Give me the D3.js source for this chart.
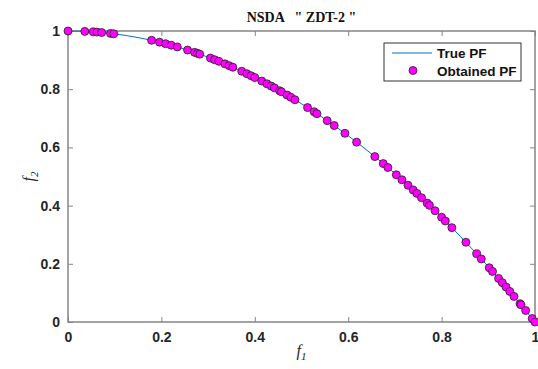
<!DOCTYPE html>
<html>
<head>
<meta charset="utf-8">
<script src="https://cdn.jsdelivr.net/npm/d3@7"></script>
<style>
  html, body { margin: 0; padding: 0; background: #fff; }
  svg { display: block; }
  .tick text { font-family: "Liberation Sans", Arial, sans-serif; font-weight: bold; font-size: 14px; fill: #262626; }
</style>
</head>
<body>
<div id="chart"></div>
<script>
// True Pareto front
const trueF1 = [0, 0.05, 0.1, 0.15, 0.2, 0.25, 0.3, 0.35, 0.4, 0.45, 0.5, 0.55, 0.6, 0.65, 0.7, 0.75, 0.8, 0.85, 0.9, 0.95, 1];
const trueF2 = [1, 0.9975, 0.99, 0.9775, 0.96, 0.9375, 0.91, 0.8775, 0.84, 0.7975, 0.75, 0.6975, 0.64, 0.5775, 0.51, 0.4375, 0.36, 0.2775, 0.19, 0.0975, 0];

// Obtained front points
const objF1 = [0, 0.036, 0.054, 0.062, 0.072, 0.091, 0.098, 0.179, 0.196, 0.209, 0.221, 0.234, 0.256, 0.271, 0.277, 0.282,
  0.305, 0.314, 0.323, 0.336, 0.345, 0.353, 0.372, 0.383, 0.392, 0.400, 0.415, 0.426, 0.435, 0.442, 0.453, 0.457,
  0.469, 0.477, 0.486, 0.513, 0.527, 0.533, 0.555, 0.570, 0.593, 0.618, 0.657, 0.675, 0.685, 0.703, 0.715, 0.728,
  0.739, 0.747, 0.757, 0.769, 0.774, 0.786, 0.800, 0.808, 0.822, 0.852, 0.875, 0.885, 0.902, 0.909, 0.922, 0.930,
  0.938, 0.946, 0.955, 0.968, 0.970, 0.980, 0.994, 1.0];
const objF2 = [1, 0.9987, 0.9971, 0.9962, 0.9948, 0.9917, 0.9904, 0.9680, 0.9616, 0.9563, 0.9512, 0.9452, 0.9345, 0.9266, 0.9233, 0.9205,
  0.9070, 0.9014, 0.8957, 0.8871, 0.8810, 0.8754, 0.8616, 0.8533, 0.8463, 0.8400, 0.8278, 0.8185, 0.8108, 0.8046, 0.7948, 0.7912,
  0.7800, 0.7725, 0.7638, 0.7368, 0.7223, 0.7159, 0.6920, 0.6751, 0.6484, 0.6181, 0.5684, 0.5444, 0.5308, 0.5058, 0.4888, 0.4700,
  0.4539, 0.4420, 0.4270, 0.4086, 0.4009, 0.3822, 0.3600, 0.3471, 0.3243, 0.2741, 0.2344, 0.2168, 0.1864, 0.1737, 0.1499, 0.1351,
  0.1202, 0.1051, 0.0880, 0.0630, 0.0591, 0.0396, 0.0120, 0];

const xTicks = [0, 0.2, 0.4, 0.6, 0.8, 1];
const yTicks = [0, 0.2, 0.4, 0.6, 0.8, 1];
const legendLabels = ['True PF', 'Obtained PF'];

const width = 538, height = 369;
const margin = { top: 31, right: 3, bottom: 47, left: 68 };

const svg = d3.select('#chart')
  .append('svg')
  .attr('width', width)
  .attr('height', height);

const x = d3.scaleLinear().domain([0, 1]).range([margin.left, width - margin.right]);
const y = d3.scaleLinear().domain([0, 1]).range([height - margin.bottom, margin.top]);

const axisColor = '#858585';

// axes (bottom/left with labels, top/right mirrored ticks only)
function styleAxis(g) {
  g.select('.domain').remove();
  g.selectAll('.tick line').attr('stroke', axisColor).attr('stroke-width', 1);
}

svg.append('g')
  .attr('transform', `translate(0,${y(0)})`)
  .call(d3.axisBottom(x).tickValues(xTicks).tickSize(-5).tickPadding(10).tickFormat(d3.format('')))
  .call(styleAxis);

svg.append('g')
  .attr('transform', `translate(${x(0)},0)`)
  .call(d3.axisLeft(y).tickValues(yTicks).tickSize(-5).tickPadding(8).tickFormat(d3.format('')))
  .call(styleAxis);

svg.append('g')
  .attr('transform', `translate(0,${y(1)})`)
  .call(d3.axisTop(x).tickValues(xTicks).tickSize(-5).tickFormat(''))
  .call(styleAxis);

svg.append('g')
  .attr('transform', `translate(${x(1)},0)`)
  .call(d3.axisRight(y).tickValues(yTicks).tickSize(-5).tickFormat(''))
  .call(styleAxis);

// box
svg.append('rect')
  .attr('x', x(0))
  .attr('y', y(1))
  .attr('width', x(1) - x(0))
  .attr('height', y(0) - y(1))
  .attr('fill', 'none')
  .attr('stroke', axisColor)
  .attr('stroke-width', 1.5);

// true PF curve
const line = d3.line()
  .x((d, i) => x(trueF1[i]))
  .y((d, i) => y(trueF2[i]))
  .curve(d3.curveNatural);

svg.append('path')
  .datum(trueF1)
  .attr('d', line)
  .attr('fill', 'none')
  .attr('stroke', '#0072BD')
  .attr('stroke-width', 1);

// obtained points
svg.append('g')
  .selectAll('circle')
  .data(objF1)
  .join('circle')
  .attr('cx', d => x(d))
  .attr('cy', (d, i) => y(objF2[i]))
  .attr('r', 4)
  .attr('fill', '#FF00FF')
  .attr('stroke', '#222')
  .attr('stroke-width', 0.8);

// title
svg.append('text')
  .attr('x', (x(0) + x(1)) / 2)
  .attr('y', 22)
  .attr('text-anchor', 'middle')
  .attr('font-family', '"Liberation Serif", "Times New Roman", serif')
  .attr('font-weight', 'bold')
  .attr('font-size', 14)
  .attr('fill', '#111')
  .attr('xml:space', 'preserve')
  .text('NSDA   " ZDT-2 "');

// axis labels
const xl = svg.append('text')
  .attr('x', (x(0) + x(1)) / 2)
  .attr('y', 356)
  .attr('text-anchor', 'middle')
  .attr('font-family', '"Liberation Serif", "Times New Roman", serif')
  .attr('font-style', 'italic')
  .attr('font-size', 16)
  .attr('fill', '#262626');
xl.append('tspan').text('f');
xl.append('tspan').attr('font-size', 11).attr('dy', 4).text('1');

const yl = svg.append('text')
  .attr('transform', `translate(34,${(y(0) + y(1)) / 2}) rotate(-90)`)
  .attr('text-anchor', 'middle')
  .attr('font-family', '"Liberation Serif", "Times New Roman", serif')
  .attr('font-style', 'italic')
  .attr('font-size', 16)
  .attr('fill', '#262626');
yl.append('tspan').text('f');
yl.append('tspan').attr('font-size', 11).attr('dy', 4).text('2');

// legend
const lg = svg.append('g').attr('transform', 'translate(384,43)');
lg.append('rect')
  .attr('width', 137)
  .attr('height', 38)
  .attr('fill', '#fff')
  .attr('stroke', '#333')
  .attr('stroke-width', 1);

lg.append('line')
  .attr('x1', 8).attr('x2', 48)
  .attr('y1', 10).attr('y2', 10)
  .attr('stroke', '#0072BD')
  .attr('stroke-width', 1);

lg.append('circle')
  .attr('cx', 29).attr('cy', 27.5)
  .attr('r', 4)
  .attr('fill', '#FF00FF')
  .attr('stroke', '#222')
  .attr('stroke-width', 0.8);

lg.selectAll('text.lbl')
  .data(legendLabels)
  .join('text')
  .attr('class', 'lbl')
  .attr('x', 53)
  .attr('y', (d, i) => 15 + i * 17.5)
  .attr('font-family', '"Liberation Sans", Arial, sans-serif')
  .attr('font-weight', 'bold')
  .attr('font-size', 13.5)
  .attr('fill', '#111')
  .text(d => d);
</script>
</body>
</html>
